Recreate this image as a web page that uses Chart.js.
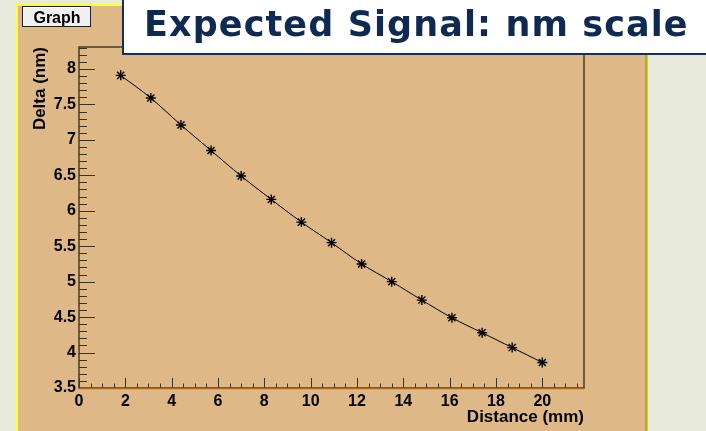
<!DOCTYPE html>
<html>
<head>
<meta charset="utf-8">
<title>Expected Signal: nm scale</title>
<script src="https://cdn.jsdelivr.net/npm/chart.js@4/dist/chart.umd.min.js"></script>
<style>
  html, body { margin: 0; padding: 0; background: #E8EADC; }
  #wrap { width: 706px; height: 431px; position: relative; }
</style>
</head>
<body>
<div id="wrap"><canvas id="c" width="706" height="431"></canvas></div>
<script>
// Measured deflection versus distance
const distanceMm = [1.8, 3.1, 4.4, 5.7, 7.0, 8.3, 9.6, 10.9, 12.2, 13.5, 14.8, 16.1, 17.4, 18.7, 20.0];
const deltaNm    = [7.91, 7.59, 7.21, 6.85, 6.49, 6.16, 5.84, 5.55, 5.25, 5.00, 4.74, 4.49, 4.28, 4.07, 3.86];

// Labelled axis ticks
const xTickLabels = [0, 2, 4, 6, 8, 10, 12, 14, 16, 18, 20];
const yTickLabels = [3.5, 4, 4.5, 5, 5.5, 6, 6.5, 7, 7.5, 8];

const X_MIN = 0, X_MAX = 21.8, X_MINOR = 0.5;
const Y_MIN = 3.5, Y_MAX = 8.31, Y_MINOR = 0.1;

const FONT = "'Liberation Sans', Arial, sans-serif";
const PAD_COLOR = '#DEB887';

// Canvas background, pad, bevel border and the small "Graph" button
const backdrop = {
  id: 'backdrop',
  beforeDraw(chart) {
    const ctx = chart.ctx;
    ctx.save();
    ctx.fillStyle = '#E8EADC';
    ctx.fillRect(0, 0, 706, 431);
    ctx.fillStyle = PAD_COLOR;
    ctx.fillRect(16, 4, 632, 440);
    // bevel: bright top/left, dark right
    ctx.fillStyle = '#FFFF3A';
    ctx.fillRect(16, 4, 631, 2);
    ctx.fillRect(16, 4, 2, 440);
    ctx.fillStyle = '#B8B000';
    ctx.fillRect(645, 5, 2, 440);
    // button
    ctx.fillStyle = '#F0F0F0';
    ctx.fillRect(22, 6, 69, 21);
    ctx.strokeStyle = '#202020';
    ctx.lineWidth = 1;
    ctx.strokeRect(22.5, 6.5, 68, 20);
    ctx.strokeStyle = '#FFFFFF';
    ctx.beginPath();
    ctx.moveTo(23.5, 25.5); ctx.lineTo(23.5, 7.5); ctx.lineTo(89.5, 7.5);
    ctx.stroke();
    ctx.fillStyle = '#000';
    ctx.font = 'bold 16px ' + FONT;
    ctx.textAlign = 'center';
    ctx.textBaseline = 'alphabetic';
    ctx.fillText('Graph', 57, 22.5);
    ctx.restore();
  }
};

// Frame around the plot and inward tick marks, placed through the chart scales
const frameTicks = {
  id: 'frameTicks',
  afterDatasetsDraw(chart) {
    const { ctx, chartArea: a, scales: { x, y } } = chart;
    ctx.save();
    ctx.lineWidth = 1;
    ctx.strokeStyle = '#3A3024';
    ctx.beginPath();
    // y ticks
    for (let v = Y_MIN; v <= Y_MAX + 1e-6; v += Y_MINOR) {
      const r = Math.round(v * 10) / 10;
      const major = Math.abs(r * 2 - Math.round(r * 2)) < 1e-6;
      const py = Math.round(y.getPixelForValue(r)) + 0.5;
      ctx.moveTo(a.left, py);
      ctx.lineTo(a.left + (major ? 16 : 8), py);
    }
    // x ticks
    for (let v = X_MIN; v <= X_MAX + 1e-6; v += X_MINOR) {
      const r = Math.round(v * 2) / 2;
      const major = Math.abs(r / 2 - Math.round(r / 2)) < 1e-6;
      const px = Math.round(x.getPixelForValue(r)) + 0.5;
      ctx.moveTo(px, a.bottom);
      ctx.lineTo(px, a.bottom - (major ? 10 : 4.5));
    }
    ctx.stroke();
    // frame
    ctx.strokeStyle = '#4A3A22';
    ctx.lineWidth = 1.5;
    ctx.strokeRect(a.left, a.top, a.right - a.left, a.bottom - a.top);
    // bottom axis line
    ctx.strokeStyle = '#A8681E';
    ctx.lineWidth = 1.5;
    ctx.beginPath();
    ctx.moveTo(a.left, a.bottom + 0.5);
    ctx.lineTo(a.right, a.bottom + 0.5);
    ctx.stroke();
    ctx.restore();
  },
  afterDraw(chart) {
    const ctx = chart.ctx;
    ctx.save();
    // headline box
    ctx.fillStyle = '#FFFFFF';
    ctx.fillRect(122, -4, 600, 59);
    ctx.strokeStyle = '#14315C';
    ctx.lineWidth = 2;
    ctx.beginPath();
    ctx.moveTo(123, -2); ctx.lineTo(123, 54); ctx.lineTo(710, 54);
    ctx.stroke();
    ctx.fillStyle = '#0E2A52';
    ctx.font = "bold 35px 'DejaVu Sans', Verdana, sans-serif";
    if ('letterSpacing' in ctx) ctx.letterSpacing = '1.1px';
    ctx.textAlign = 'left';
    ctx.textBaseline = 'alphabetic';
    ctx.fillText('Expected Signal: nm scale', 144, 36);
    ctx.restore();
  }
};

const tickFont = { family: FONT, weight: 'bold', size: 16 };
const titleFont = { family: FONT, weight: 'bold', size: 17 };

new Chart(document.getElementById('c'), {
  type: 'scatter',
  data: {
    datasets: [{
      data: distanceMm.map((d, i) => ({ x: d, y: deltaNm[i] })),
      showLine: true,
      tension: 0.35,
      borderColor: '#000000',
      borderWidth: 1,
      pointStyle: 'star',
      pointRadius: 5,
      pointBorderColor: '#000000',
      pointBackgroundColor: '#000000',
      pointBorderWidth: 1.4
    }]
  },
  options: {
    responsive: false,
    animation: false,
    devicePixelRatio: 1,
    layout: { padding: { left: 0, top: 47, right: 122, bottom: 0 } },
    plugins: { legend: { display: false }, tooltip: { enabled: false } },
    scales: {
      x: {
        type: 'linear',
        min: X_MIN, max: X_MAX,
        afterBuildTicks: s => { s.ticks = xTickLabels.map(v => ({ value: v })); },
        afterFit: s => { s.height = 43; },
        grid: { display: false, drawTicks: false },
        border: { display: false },
        ticks: { color: '#000', font: tickFont, padding: 4, maxRotation: 0, autoSkip: false,
                 callback: v => String(v) },
        title: { display: true, text: 'Distance (mm)', align: 'end', color: '#000',
                 font: titleFont, padding: { top: 0, bottom: 3 } }
      },
      y: {
        type: 'linear',
        min: Y_MIN, max: Y_MAX,
        afterBuildTicks: s => { s.ticks = yTickLabels.map(v => ({ value: v })); },
        afterFit: s => { s.width = 79; },
        grid: { display: false, drawTicks: false },
        border: { display: false },
        ticks: { color: '#000', font: tickFont, padding: 3, autoSkip: false,
                 callback: v => String(v) },
        title: { display: true, text: 'Delta (nm)', align: 'end', color: '#000',
                 font: titleFont, padding: { top: 30, bottom: 0 } }
      }
    }
  },
  plugins: [backdrop, frameTicks]
});
</script>
</body>
</html>
